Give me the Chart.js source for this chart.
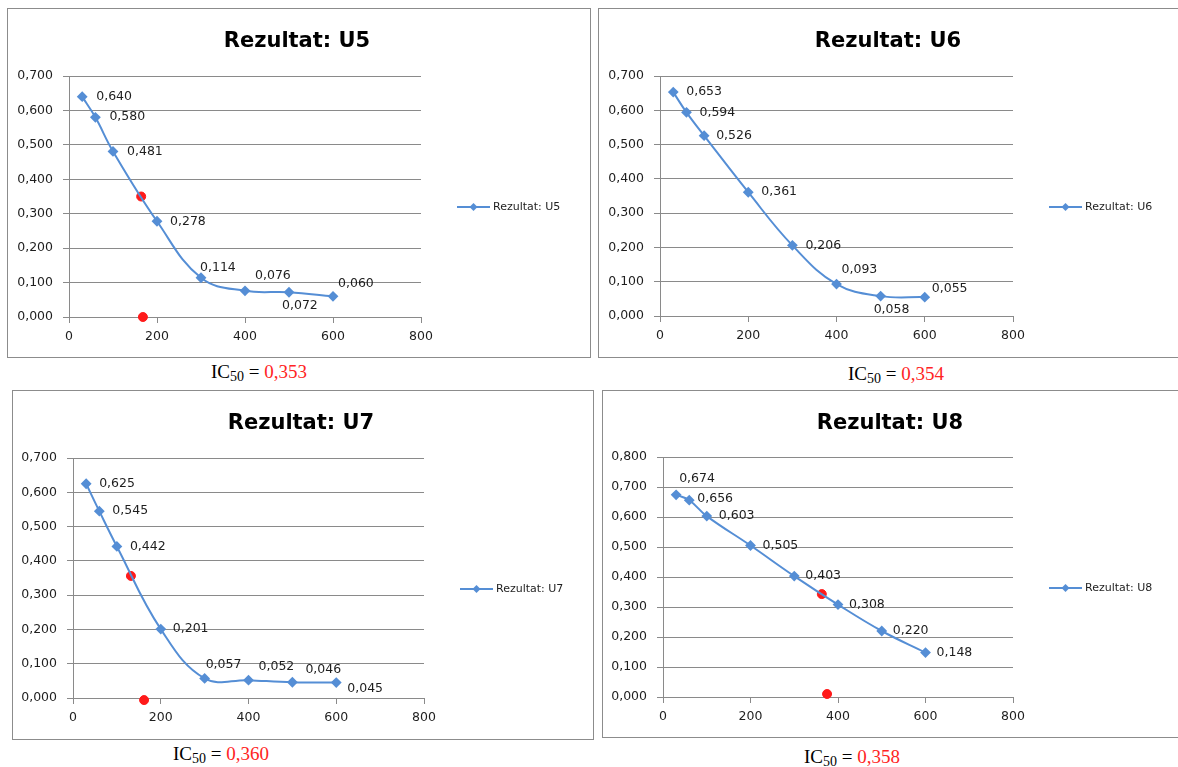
<!DOCTYPE html>
<html>
<head>
<meta charset="utf-8">
<script src="https://cdn.jsdelivr.net/npm/chart.js@4.4.1/dist/chart.umd.min.js"></script>
<style>
  html, body { margin: 0; padding: 0; background: #fff; overflow: hidden; }
  body { width: 1178px; height: 767px; position: relative; }
  .box { position: absolute; border: 1px solid #8c8c8c; background: #fff; }
  .box canvas { display: block; }
  .ic { position: absolute; width: 200px; text-align: center; color: #000;
        font: 19px "Liberation Serif", "Times New Roman", serif; line-height: 19px; }
  .ic sub { font-size: 14px; vertical-align: -3px; line-height: 0; }
  .ic span { color: #ff2424; }
</style>
</head>
<body>
<div class="box" style="left:7px;top:8px"><canvas id="c5" width="582" height="348"></canvas></div>
<div class="box" style="left:598px;top:8px"><canvas id="c6" width="582" height="348"></canvas></div>
<div class="box" style="left:12px;top:390px"><canvas id="c7" width="580" height="348"></canvas></div>
<div class="box" style="left:602px;top:390px"><canvas id="c8" width="578" height="346"></canvas></div>

<div class="ic" style="left:159px;top:362px">IC<sub>50</sub> = <span>0,353</span></div>
<div class="ic" style="left:796px;top:364px">IC<sub>50</sub> = <span>0,354</span></div>
<div class="ic" style="left:121px;top:744px">IC<sub>50</sub> = <span>0,360</span></div>
<div class="ic" style="left:752px;top:747px">IC<sub>50</sub> = <span>0,358</span></div>

<script>
// concentrations (x) shared by all four samples
const conc = [30, 60, 100, 200, 300, 400, 500, 600];

const u5 = [0.640, 0.580, 0.481, 0.278, 0.114, 0.076, 0.072, 0.060];
const u6 = [0.653, 0.594, 0.526, 0.361, 0.206, 0.093, 0.058, 0.055];
const u7 = [0.625, 0.545, 0.442, 0.201, 0.057, 0.052, 0.046, 0.045];
const u8 = [0.674, 0.656, 0.603, 0.505, 0.403, 0.308, 0.220, 0.148];

// red IC50 markers
const u5MarkX = [164, 168];
const u5MarkY = [0.350, 0];
const u7MarkX = [132, 162];
const u7MarkY = [0.356, -0.006];
const u8MarkX = [363, 375];
const u8MarkY = [0.343, 0.010];

const xMax = 800;
const xStep = 200;
const yStep = 0.1;

// where each data label sits relative to its point [dx, dy]
const u5LabelShift = [[14, 0], [14, -1], [14, 0], [13, 0], [-1, -10], [10, -15], [-7, 14], [5, -13]];
const u6LabelShift = [[13, 0], [13, 0], [12, 0], [13, 0], [13, 0], [5, -14], [-7, 14], [7, -8]];
const u7LabelShift = [[13, 0], [13, 0], [13, 0], [12, 0], [1, -14], [10, -13], [13, -12], [11, 6]];
const u8LabelShift = [[3, -16], [8, -1], [12, 0], [12, 0], [11, 0], [11, 0], [11, 0], [11, 0]];

const blue = '#558ed5';
const red = '#ff1a1a';
const gridColor = '#8a8a8a';
const textColor = '#1e1e1e';
const tickFont = { family: 'DejaVu Sans', size: 12.5 };

const fmt = v => v.toFixed(3).replace('.', ',');

const decor = {
  id: 'decor',
  afterDatasetsDraw(chart) {
    const ctx = chart.ctx;
    const o = chart.options.plugins.decor;
    const area = chart.chartArea;
    ctx.save();

    // data labels
    ctx.font = '12.5px "DejaVu Sans"';
    ctx.fillStyle = textColor;
    ctx.textAlign = 'left';
    ctx.textBaseline = 'middle';
    const meta = chart.getDatasetMeta(0);
    meta.data.forEach((pt, i) => {
      const s = o.shift[i];
      ctx.fillText(fmt(chart.data.datasets[0].data[i].y), pt.x + s[0], pt.y + s[1]);
    });

    // title
    ctx.font = 'bold 21px "DejaVu Sans"';
    ctx.fillStyle = '#000';
    ctx.textAlign = 'center';
    ctx.textBaseline = 'alphabetic';
    ctx.fillText(o.title, chart.width / 2 - 2, 38);

    // legend
    const lx = area.right + 36;
    const ly = area.top + 131;
    ctx.strokeStyle = blue;
    ctx.lineWidth = 2;
    ctx.beginPath();
    ctx.moveTo(lx, ly);
    ctx.lineTo(lx + 33, ly);
    ctx.stroke();
    ctx.fillStyle = blue;
    ctx.beginPath();
    ctx.moveTo(lx + 16.5, ly - 4);
    ctx.lineTo(lx + 20.5, ly);
    ctx.lineTo(lx + 16.5, ly + 4);
    ctx.lineTo(lx + 12.5, ly);
    ctx.closePath();
    ctx.fill();
    ctx.font = '11px "DejaVu Sans"';
    ctx.fillStyle = textColor;
    ctx.textAlign = 'left';
    ctx.textBaseline = 'middle';
    ctx.fillText(o.title, lx + 36, ly);

    ctx.restore();
  }
};

function makeChart(id, title, ys, markX, markY, yMax, shift, plot) {
  const canvas = document.getElementById(id);
  const W = canvas.width, H = canvas.height;
  const datasets = [{
    label: title,
    data: conc.map((x, i) => ({ x: x, y: ys[i] })),
    showLine: true,
    borderColor: blue,
    backgroundColor: blue,
    borderWidth: 2,
    tension: 0.4,
    pointStyle: 'rectRot',
    pointRadius: 4,
    pointHoverRadius: 4
  }];
  if (markX.length) {
    datasets.push({
      label: 'IC50',
      data: markX.map((x, i) => ({ x: x, y: markY[i] })),
      showLine: false,
      pointStyle: 'circle',
      pointRadius: 4.5,
      backgroundColor: red,
      borderColor: red,
      clip: false
    });
  }
  return new Chart(canvas, {
    type: 'scatter',
    data: { datasets: datasets },
    options: {
      responsive: false,
      animation: false,
      events: [],
      layout: { padding: { left: 0, top: plot[1], right: W - plot[2], bottom: 0 } },
      plugins: {
        legend: { display: false },
        title: { display: false },
        tooltip: { enabled: false },
        decor: { title: title, shift: shift }
      },
      scales: {
        x: {
          type: 'linear',
          min: 0,
          max: xMax,
          ticks: { stepSize: xStep, padding: 6, font: tickFont, color: textColor },
          grid: { drawOnChartArea: false, tickLength: 6, color: gridColor },
          border: { color: gridColor },
          afterFit: s => { s.height = H - plot[3]; }
        },
        y: {
          min: 0,
          max: yMax,
          ticks: { stepSize: yStep, padding: 10, font: tickFont, color: textColor, callback: v => fmt(v) },
          grid: { color: gridColor, tickLength: 6 },
          border: { color: gridColor },
          afterFit: s => { s.width = plot[0]; }
        }
      }
    },
    plugins: [decor]
  });
}

makeChart('c5', 'Rezultat: U5', u5, u5MarkX, u5MarkY, 0.7, u5LabelShift, [61, 67, 413, 308]);
makeChart('c6', 'Rezultat: U6', u6, [], [], 0.7, u6LabelShift, [61, 67, 414, 307]);
makeChart('c7', 'Rezultat: U7', u7, u7MarkX, u7MarkY, 0.7, u7LabelShift, [60, 67, 411, 307]);
makeChart('c8', 'Rezultat: U8', u8, u8MarkX, u8MarkY, 0.8, u8LabelShift, [60, 66, 410, 306]);
</script>
</body>
</html>
